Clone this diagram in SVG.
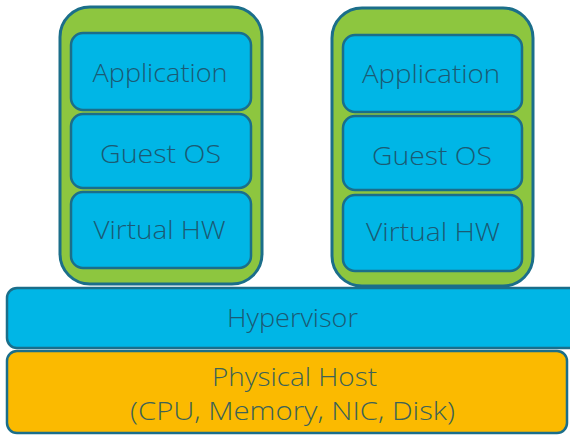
<svg xmlns="http://www.w3.org/2000/svg" width="570" height="436" viewBox="0 0 570 436">
<style>
.vm{fill:#8dc63f;stroke:#1b6e8a;stroke-width:3}
.blk{fill:#00b6e6;stroke:#1b6e8a;stroke-width:2.5}
.phy{fill:#fbba00;stroke:#1b6e8a;stroke-width:2.5}
text{font-family:"Open Sans","Liberation Sans",Arial,sans-serif;font-weight:300;font-size:25px;text-anchor:middle;fill:#1b5a74}
.ph{fill:#3c6257}
</style>
<rect width="570" height="436" fill="#ffffff"/>
<g id="vm1">
<rect class="vm" x="60" y="7" width="202" height="277" rx="30"/>
<g id="vm1-app"><rect class="blk" x="71" y="33" width="180" height="77" rx="12"/><text x="160" y="82" textLength="135" lengthAdjust="spacingAndGlyphs">Application</text></g>
<g id="vm1-os"><rect class="blk" x="71" y="114" width="180" height="74" rx="12"/><text x="160.5" y="163" textLength="121" lengthAdjust="spacingAndGlyphs">Guest OS</text></g>
<g id="vm1-hw"><rect class="blk" x="71" y="192" width="180" height="76" rx="12"/><text x="159.5" y="239" textLength="132" lengthAdjust="spacingAndGlyphs">Virtual HW</text></g>
</g>
<g id="vm2">
<rect class="vm" x="332" y="8" width="201" height="278" rx="30"/>
<g id="vm2-app"><rect class="blk" x="343" y="35" width="179" height="77" rx="12"/><text x="431" y="83" textLength="138" lengthAdjust="spacingAndGlyphs">Application</text></g>
<g id="vm2-os"><rect class="blk" x="343" y="116" width="179" height="74" rx="12"/><text x="432" y="165" textLength="120" lengthAdjust="spacingAndGlyphs">Guest OS</text></g>
<g id="vm2-hw"><rect class="blk" x="343" y="195" width="179" height="76" rx="12"/><text x="433" y="241" textLength="134" lengthAdjust="spacingAndGlyphs">Virtual HW</text></g>
</g>
<g id="hypervisor">
<rect class="blk" x="7" y="288" width="575" height="60" rx="10"/>
<text x="292.5" y="327" textLength="131" lengthAdjust="spacingAndGlyphs">Hypervisor</text>
</g>
<g id="physical-host">
<rect class="phy" x="7" y="351" width="560" height="82" rx="10"/>
<text class="ph" x="294.5" y="386" textLength="165" lengthAdjust="spacingAndGlyphs">Physical Host</text>
<text class="ph" x="292.5" y="420" textLength="325" lengthAdjust="spacingAndGlyphs">(CPU, Memory, NIC, Disk)</text>
</g>
<g id="connectors"></g>
</svg>
